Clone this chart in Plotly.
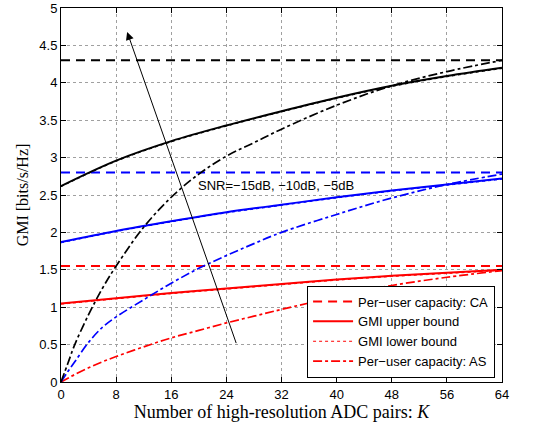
import plotly.graph_objects as go

# ---- data ----
K_full = [0, 8, 16, 24, 32, 40, 48, 56, 64]
K_as = [0, 1, 2, 4, 6, 8, 12, 16, 20, 24, 28, 32, 40, 48, 56, 64]

ca_red = 1.55
ca_blue = 2.80
ca_black = 4.30

ub_red = [1.05, 1.12, 1.19, 1.25, 1.31, 1.37, 1.42, 1.46, 1.50]
ub_blue = [1.87, 2.02, 2.15, 2.27, 2.37, 2.47, 2.56, 2.64, 2.72]
ub_black = [2.62, 2.96, 3.22, 3.43, 3.62, 3.80, 3.96, 4.09, 4.20]

lb_red = [1.04, 1.11, 1.18, 1.24, 1.30, 1.36, 1.41, 1.45, 1.49]
lb_blue = [1.86, 2.01, 2.14, 2.26, 2.36, 2.46, 2.55, 2.63, 2.71]
lb_black = [2.61, 2.95, 3.21, 3.42, 3.61, 3.79, 3.95, 4.08, 4.19]

as_red = [0, 0.05, 0.10, 0.19, 0.27, 0.34, 0.47, 0.59, 0.69, 0.79, 0.88, 0.97, 1.14, 1.29, 1.40, 1.49]
as_blue = [0, 0.14, 0.27, 0.53, 0.73, 0.87, 1.10, 1.32, 1.52, 1.69, 1.85, 2.00, 2.24, 2.46, 2.64, 2.78]
as_black = [0, 0.25, 0.50, 0.90, 1.25, 1.55, 2.07, 2.47, 2.78, 3.02, 3.20, 3.38, 3.70, 3.96, 4.15, 4.30]

y_ticks = [0, 0.5, 1, 1.5, 2, 2.5, 3, 3.5, 4, 4.5, 5]
y_ticklabels = ["0", "0.5", "1", "1.5", "2", "2.5", "3", "3.5", "4", "4.5", "5"]
x_ticks = [0, 8, 16, 24, 32, 40, 48, 56, 64]

colors = {"red": "#ff0000", "blue": "#0000ff", "black": "#000000"}

fig = go.Figure()

groups = [
    ("red", ca_red, ub_red, lb_red, as_red, True),
    ("blue", ca_blue, ub_blue, lb_blue, as_blue, False),
    ("black", ca_black, ub_black, lb_black, as_black, False),
]

for name, ca, ub, lb, asv, show in groups:
    c = colors[name]
    fig.add_trace(go.Scatter(x=[K_full[0], K_full[-1]], y=[ca, ca], mode="lines",
                             line=dict(color=c, width=2, dash="9px,6px"),
                             name="Per\u2212user capacity: CA", showlegend=show, legendrank=1))
    fig.add_trace(go.Scatter(x=K_full, y=ub, mode="lines", line_shape="spline",
                             line=dict(color=c, width=2),
                             name="GMI upper bound", showlegend=show, legendrank=2))
    fig.add_trace(go.Scatter(x=K_full, y=lb, mode="lines", line_shape="spline",
                             line=dict(color=c, width=1, dash="dot"),
                             name="GMI lower bound", showlegend=show, legendrank=3))
    fig.add_trace(go.Scatter(x=K_as, y=asv, mode="lines", line_shape="spline",
                             line=dict(color=c, width=1.7, dash="dashdot"),
                             name="Per\u2212user capacity: AS", showlegend=show, legendrank=4))

fig.add_annotation(x=9.6, y=4.68, ax=25.5, ay=0.5, xref="x", yref="y", axref="x", ayref="y",
                   showarrow=True, arrowhead=2, arrowsize=1.6, arrowwidth=1, arrowcolor="black", text="")
fig.add_annotation(x=19.6, y=2.63, xref="x", yref="y", text="SNR=\u221215dB, \u221210dB, \u22125dB",
                   showarrow=False, xanchor="left", yanchor="middle",
                   font=dict(family="Liberation Sans, Arial", size=13, color="black"))

axis_common = dict(showline=True, linecolor="black", linewidth=1, mirror="ticks",
                   ticks="inside", ticklen=5, tickcolor="black",
                   showgrid=True, gridcolor="#a0a0a0", griddash="dot", gridwidth=1,
                   zeroline=False, automargin=False, ticklabeloverflow="allow",
                   tickfont=dict(family="Liberation Sans, Arial", size=13, color="black"))

fig.update_xaxes(range=[0, 64], tickvals=x_ticks, ticktext=[str(v) for v in x_ticks],
                 title=dict(text="Number of high-resolution ADC pairs: <i>K</i>",
                            font=dict(family="Liberation Serif, Times New Roman", size=18, color="black"),
                            standoff=2),
                 **axis_common)
fig.update_yaxes(range=[0, 5], tickvals=y_ticks, ticktext=y_ticklabels,
                 title=dict(text="GMI [bits/s/Hz]",
                            font=dict(family="Liberation Serif, Times New Roman", size=16, color="black"),
                            standoff=6),
                 **axis_common)

fig.update_layout(
    width=549, height=430,
    margin=dict(l=61, r=47, t=8, b=48),
    plot_bgcolor="white", paper_bgcolor="white",
    legend=dict(x=0.558, y=0.258, xanchor="left", yanchor="top",
                bgcolor="white", bordercolor="black", borderwidth=1,
                font=dict(family="Liberation Sans, Arial", size=13, color="black"),
                tracegroupgap=0, itemwidth=40),
)

fig.write_html("out.html")
